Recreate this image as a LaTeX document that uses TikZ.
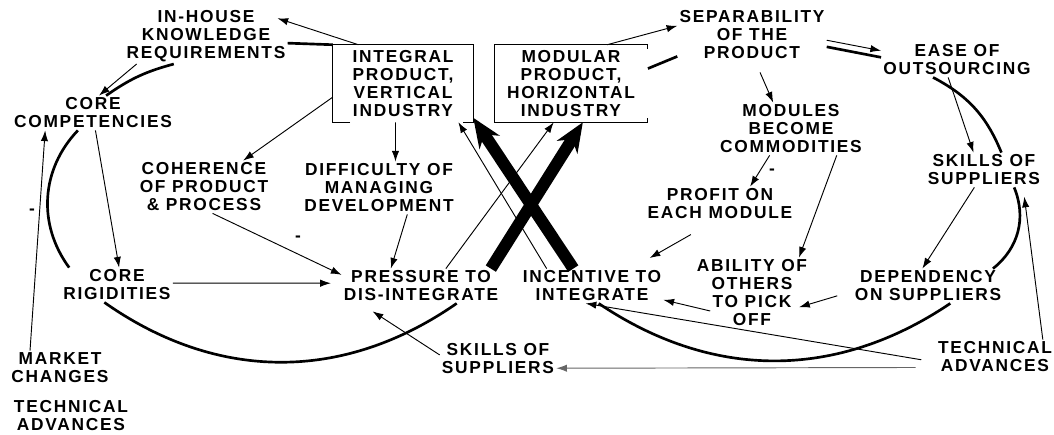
\documentclass[tikz,border=0pt]{standalone}
\usepackage{fontspec}
\setmainfont{Liberation Sans}[LetterSpace=10]
\usetikzlibrary{arrows.meta}

\begin{document}
\begin{tikzpicture}[x=0.75pt,y=-0.75pt,
  lbl/.style={font=\bfseries\fontsize{13}{13.5}\selectfont, align=center, inner sep=1.5pt},
  boxx/.style={lbl, minimum height=57.75pt},
  arr/.style={-{Latex[length=8pt,width=5.5pt]}, line width=0.7pt},
  loopln/.style={line width=2pt},
  big/.style={-{Stealth[length=22pt,width=18pt,inset=7pt]}, line width=9pt}]
\useasboundingbox (0,0) rectangle (1054,435);

\node[lbl] (inh) at (206,36) {IN-HOUSE\\KNOWLEDGE\\REQUIREMENTS};
\node[lbl] (cc) at (93,113) {CORE\\COMPETENCIES};
\node[boxx, minimum width=105pt] (intg) at (403,83.5) {INTEGRAL\\PRODUCT,\\VERTICAL\\INDUSTRY};
\node[boxx, minimum width=115pt] (mdl) at (571,83.5) {MODULAR\\PRODUCT,\\HORIZONTAL\\INDUSTRY};
\node[lbl] (sep) at (752,35) {SEPARABILITY\\OF THE\\PRODUCT};
\node[lbl] (ease) at (957,60) {EASE OF\\OUTSOURCING};
\node[lbl] (mod) at (791,129) {MODULES\\BECOME\\COMMODITIES};
\node[lbl] (skr) at (984,170) {SKILLS OF\\SUPPLIERS};
\node[lbl] (prof) at (720,204) {PROFIT ON\\EACH MODULE};
\node[lbl] (abil) at (752,293) {ABILITY OF\\OTHERS\\TO PICK\\OFF};
\node[lbl] (dep) at (928,286) {DEPENDENCY\\ON SUPPLIERS};
\node[lbl] (tar) at (995,357) {TECHNICAL\\ADVANCES};
\node[lbl] (inc) at (592,286) {INCENTIVE TO\\INTEGRATE};
\node[lbl] (pres) at (421,286) {PRESSURE TO\\DIS-INTEGRATE};
\node[lbl] (sks) at (498,359) {SKILLS OF\\SUPPLIERS};
\node[lbl] (diff) at (379,188) {DIFFICULTY OF\\MANAGING\\DEVELOPMENT};
\node[lbl] (coh) at (204,187) {COHERENCE\\OF PRODUCT\\\& PROCESS};
\node[lbl] (cr) at (117,285) {CORE\\RIGIDITIES};
\node[lbl] (mc) at (60,368) {MARKET\\CHANGES};
\node[lbl] (tal) at (71,416) {TECHNICAL\\ADVANCES};
\node[lbl] (m1) at (32,212) {-};
\node[lbl] (m2) at (298,239) {-};
\node[lbl] (m3) at (772,172) {-};

% the two boxes
\draw[line width=0.8pt] ([xshift=13pt]intg.south west) -- (intg.south west) -- (intg.north west)
  -- (intg.north east) -- (intg.south east) -- ([xshift=-8pt]intg.south east);
\draw[line width=0.8pt] ([yshift=-3pt]mdl.north east) -- (mdl.north east) -- (mdl.north west)
  -- (mdl.south west) -- (mdl.south east) -- ([yshift=3pt]mdl.south east);

% left loop
\draw[loopln] (intg.north west) -- (inh.355);
\draw[loopln] (inh.221) to[bend right=10] (cc.53);
\draw[loopln] (cc.229) to[bend right=40] (cr.160);
\draw[loopln] (cr.234) to[bend right=35] (pres.334);
% right loop
\draw[loopln] (mdl.11) -- (sep.196);
\draw[loopln] (sep.351) -- (ease.178);
\draw[loopln] (ease.216) to[bend left=20] (skr.45);
\draw[loopln] (skr.330) to[bend left=37] (dep.15);
\draw[loopln] (dep.322) to[bend left=34] (inc.291);

\draw[arr, shorten >=-8pt] (intg.139) -- (inh.10);
\draw[arr] (inh.202) -- (cc.71);
\draw[arr] (cc.278) -- (cr.83);
\draw[arr] (mc.150) -- (cc.200);
\draw[arr] (intg.191) -- (coh.34);
\draw[arr] (intg.259) -- (diff.58);
\draw[arr] (coh.288) -- (pres.172);
\draw[arr, shorten >=8pt] (cr.2) -- (pres.178);
\draw[arr] (diff.317) -- (pres.150);
\draw[arr] (pres.35) -- (mdl.246);
\draw[arr] (inc.159) -- (intg.325);
\draw[big] (pres.14) -- (mdl.287);
\draw[big] (inc.137) -- (intg.334);

\draw[arr] (mdl.47) -- (sep.173);
\draw[arr] (sep.356) -- (ease.173);
\draw[arr, shorten <=9pt] (sep.277) -- (mod.124);
\draw[arr] (mod.231) -- (prof.30);
\draw[arr] (mod.330) -- (abil.37);
\draw[arr, shorten <=20pt, shorten >=16pt] (prof.251) -- (inc.24);
\draw[arr] (ease.243) -- (skr.121);
\draw[arr] (skr.241) -- (dep.108);
\draw[arr, shorten >=7pt] (tar.20) -- (skr.336);
\draw[arr, shorten <=12pt, shorten >=-8pt] (dep.184) -- (abil.349);
\draw[arr, shorten <=-12pt] (abil.194) -- (inc.349);
\draw[arr, shorten <=11pt] (tar.185) -- (inc.250);
\draw[arr, black!60, shorten <=15pt] (tar.190) -- (sks.351);
\draw[arr, shorten >=11pt] (sks.176) -- (pres.196);
\end{tikzpicture}
\end{document}
